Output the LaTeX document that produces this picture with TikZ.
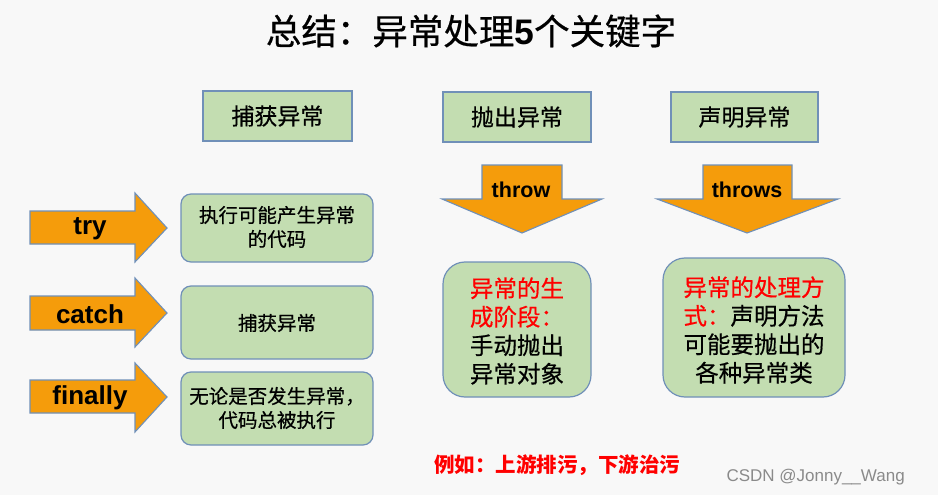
\documentclass[tikz,border=0pt]{standalone}
\usepackage{fontspec}
\setmainfont{Liberation Sans}
\newfontfamily\cjk[FakeBold=0.5]{Noto Sans CJK SC}
\newfontfamily\cjkb{Noto Sans CJK SC}
\usetikzlibrary{positioning}
\definecolor{bg}{HTML}{F8F8F8}
\definecolor{boxgreen}{HTML}{C3DDB1}
\definecolor{boxedge}{HTML}{7090B8}
\definecolor{arroworange}{HTML}{F59C0B}
\definecolor{wm}{HTML}{8A8A8A}
\tikzset{
  sqbox/.style={draw=boxedge, line width=1.4pt, fill=boxgreen, inner sep=0pt},
  rbox/.style={draw=boxedge, line width=1.2pt, fill=boxgreen, rounded corners=10pt, inner sep=0pt},
  rbigbox/.style={draw=boxedge, line width=1.2pt, fill=boxgreen, rounded corners=22pt, inner sep=0pt},
  arr/.style={draw=boxedge, line width=1.1pt, fill=arroworange},
  kw/.style={font=\bfseries\fontsize{26}{28}\selectfont, text=black},
  kwd/.style={font=\bfseries\fontsize{21.5}{24}\selectfont, text=black},
  head/.style={font=\cjk\fontsize{23}{26}\selectfont, text=black},
  small/.style={font=\cjk\fontsize{19.5}{24}\selectfont, text=black, align=center},
  big/.style={font=\cjk\fontsize{23.5}{28.5}\selectfont, text=black},
}
\begin{document}
\begin{tikzpicture}[x=1pt, y=-1pt]
\fill[bg] (0,0) rectangle (938,495);
\useasboundingbox (0,0) rectangle (938,495);

% title
\node[font=\cjk\fontsize{35.5}{40}\selectfont] (title) at (471,31) {总结：异常处理{\rmfamily\bfseries 5}个关键字};

% top headers
\draw[sqbox] (203,91) rectangle (352,141);
\node[head] (h1) at (277.5,116) {捕获异常};
\draw[sqbox] (443,92) rectangle (591,142);
\node[head] (h2) at (517,117) {抛出异常};
\draw[sqbox] (671,92) rectangle (818,142);
\node[head] (h3) at (744.5,117) {声明异常};

% right arrows
\draw[arr] (30,211) -- (135,211) -- (135,193) -- (167,228) -- (135,262) -- (135,244) -- (30,244) -- cycle;
\node[kw] (try) at (90,229) {try};
\draw[arr] (30,296) -- (135,296) -- (135,278) -- (167,313) -- (135,347) -- (135,330) -- (30,330) -- cycle;
\node[kw] (catch) at (90,314) {catch};
\draw[arr] (30,380) -- (135,380) -- (135,363) -- (167,397) -- (135,432) -- (135,413) -- (30,413) -- cycle;
\node[kw] (finally) at (90,398) {finally};

% left description boxes
\draw[rbox] (181,194) rectangle (373,262);
\node[small] (d1) at (277,227) {执行可能产生异常\\的代码};
\draw[rbox] (181,286) rectangle (373,359);
\node[small] (d2) at (277,323) {捕获异常};
\draw[rbox] (181,372) rectangle (373,445);
\node[small] (d3) at (277,408) {无论是否发生异常，\\代码总被执行};

% down arrows
\draw[arr] (482,165) -- (562,165) -- (562,199) -- (602,199) -- (522,233) -- (442,199) -- (482,199) -- cycle;
\node[kwd] (throw) at (521,190) {throw};
\draw[arr] (703,165) -- (792,165) -- (792,199) -- (838,199) -- (747,233) -- (657,199) -- (703,199) -- cycle;
\node[kwd] (throws) at (747,190) {throws};

% lower boxes
\draw[rbigbox] (443,262) rectangle (591,397);
\node[big, align=left] (g1) at (517,331) {\textcolor{red}{异常的生}\\\textcolor{red}{成阶段：}\\手动抛出\\异常对象};
\draw[rbigbox] (663,258) rectangle (845,397);
\node[big, align=center] (g2) at (754,330) {\textcolor{red}{异常的处理方}\\\textcolor{red}{式：}声明方法\\可能要抛出的\\各种异常类};

% bottom red note
\node[font=\cjkb\bfseries\fontsize{20.5}{24}\selectfont, text=red] (note) at (557,465) {例如：上游排污，下游治污};

% watermark
\node[font=\fontsize{17}{20}\selectfont, text=wm, anchor=west] (wmark) at (723,477) {CSDN @Jonny\_\_Wang};
\end{tikzpicture}
\end{document}
